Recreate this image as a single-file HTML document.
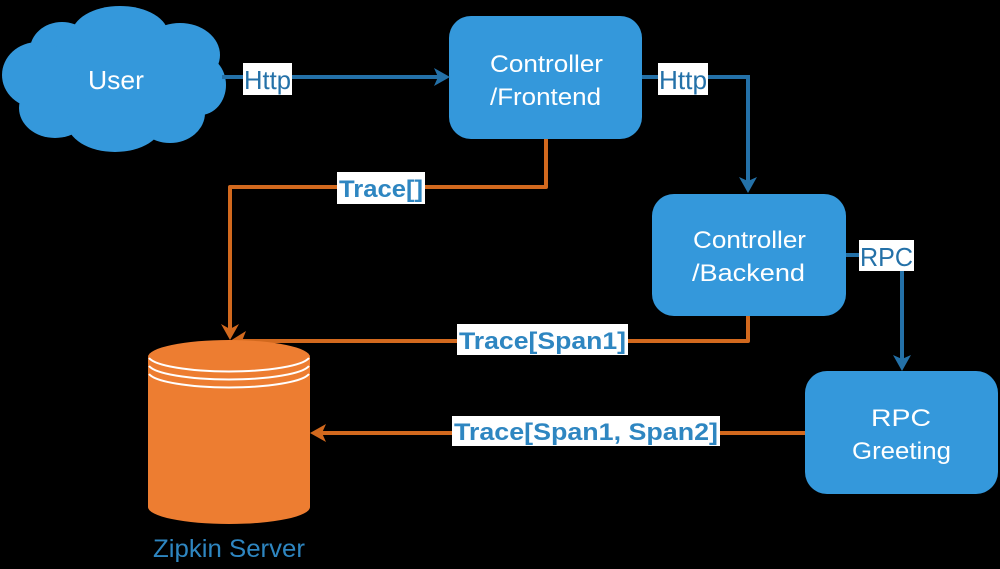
<!DOCTYPE html>
<html><head><meta charset="utf-8"><style>
html,body{margin:0;padding:0;background:#000;}
svg{display:block;}
text{font-family:"Liberation Sans",sans-serif;}
</style></head><body>
<svg width="1000" height="569" viewBox="0 0 1000 569" xmlns="http://www.w3.org/2000/svg">
<rect width="1000" height="569" fill="#000"/>
<g fill="#3498db">
<ellipse cx="112" cy="80" rx="98" ry="52"/>
<ellipse cx="62" cy="50" rx="32" ry="28"/>
<ellipse cx="120" cy="34" rx="48" ry="28"/>
<ellipse cx="180" cy="55" rx="40" ry="32"/>
<ellipse cx="38" cy="75" rx="36" ry="33"/>
<ellipse cx="200" cy="85" rx="26" ry="30"/>
<ellipse cx="55" cy="108" rx="36" ry="30"/>
<ellipse cx="115" cy="122" rx="48" ry="30"/>
<ellipse cx="170" cy="113" rx="35" ry="30"/>
</g>
<text x="88" y="89" font-size="26" fill="#fff" textLength="56" lengthAdjust="spacingAndGlyphs">User</text>
<rect x="449" y="16" width="193" height="123" rx="22" fill="#3498db"/>
<text x="490" y="72" font-size="24" fill="#fff" textLength="113" lengthAdjust="spacingAndGlyphs">Controller</text>
<text x="490" y="105" font-size="24" fill="#fff" textLength="111" lengthAdjust="spacingAndGlyphs">/Frontend</text>
<rect x="652" y="194" width="194" height="122" rx="22" fill="#3498db"/>
<text x="693" y="248" font-size="24" fill="#fff" textLength="113" lengthAdjust="spacingAndGlyphs">Controller</text>
<text x="692" y="281" font-size="24" fill="#fff" textLength="113" lengthAdjust="spacingAndGlyphs">/Backend</text>
<rect x="805" y="371" width="193" height="123" rx="22" fill="#3498db"/>
<text x="871" y="426" font-size="24" fill="#fff" textLength="60" lengthAdjust="spacingAndGlyphs">RPC</text>
<text x="852" y="459" font-size="24" fill="#fff" textLength="99" lengthAdjust="spacingAndGlyphs">Greeting</text>
<g stroke="#2471a8" stroke-width="4" fill="none">
<path d="M222 77 H440"/>
<path d="M642 77 H748 V184"/>
<path d="M846 255 H902 V362"/>
</g>
<g fill="#2471a8">
<path d="M450 77 L434 68 L438 77 L434 86 Z"/>
<path d="M748 193 L739 177 L748 181 L757 177 Z"/>
<path d="M902 371 L893 355 L902 359 L911 355 Z"/>
</g>
<g fill="#fff"><rect x="243" y="63" width="49" height="32"/><rect x="658" y="63" width="50" height="32"/><rect x="859" y="240" width="55" height="31"/></g>
<g fill="#2471a8" font-size="26">
<text x="244" y="89" textLength="47" lengthAdjust="spacingAndGlyphs">Http</text><text x="659" y="89" textLength="48" lengthAdjust="spacingAndGlyphs">Http</text><text x="860" y="266" textLength="53" lengthAdjust="spacingAndGlyphs">RPC</text>
</g>
<g stroke="#d2691e" stroke-width="4" fill="none" stroke-linejoin="round">
<path d="M546 139 V187 H230 V330"/>
<path d="M748 316 V341 H240"/>
<path d="M805 433 H320"/>
</g>
<g fill="#d2691e">
<path d="M230 340 L221 324 L230 329 L239 324 Z"/>
<path d="M230 341 L246 331 L242 341 L246 351 Z"/>
<path d="M310 433 L326 424 L322 433 L326 442 Z"/>
</g>
<path d="M148 357 V507 A81 17 0 0 0 310 507 V357 Z" fill="#ed7d31"/>
<ellipse cx="229" cy="357" rx="81" ry="17" fill="#ed7d31"/>
<g stroke="#fff" stroke-width="2" fill="none">
<path d="M149 358 A81 16 0 0 0 309 358"/>
<path d="M149 366 A81 16 0 0 0 309 366"/>
<path d="M149 374 A81 16 0 0 0 309 374"/>
</g>
<text x="229" y="557" font-size="25" fill="#2e86c1" text-anchor="middle" textLength="152" lengthAdjust="spacingAndGlyphs">Zipkin Server</text>
<g fill="#fff"><rect x="337" y="172" width="88" height="32"/><rect x="457" y="324" width="171" height="31"/><rect x="452" y="416" width="268" height="30"/></g>
<g fill="#2e86c1" font-size="24" font-weight="bold">
<text x="339" y="197" textLength="84" lengthAdjust="spacingAndGlyphs">Trace[]</text>
<text x="459" y="349" textLength="167" lengthAdjust="spacingAndGlyphs">Trace[Span1]</text>
<text x="454" y="440" textLength="264" lengthAdjust="spacingAndGlyphs">Trace[Span1, Span2]</text>
</g>
</svg>
</body></html>
